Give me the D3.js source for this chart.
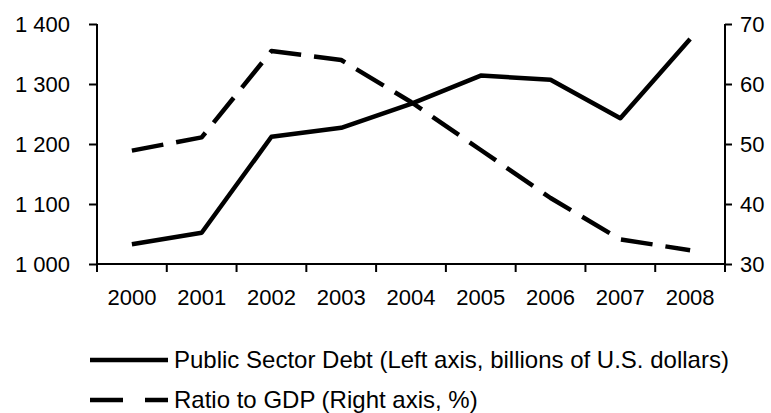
<!DOCTYPE html>
<html>
<head>
<meta charset="utf-8">
<script src="https://cdn.jsdelivr.net/npm/d3@7"></script>
<style>
  body { margin: 0; background: #fff; }
  svg text { font-family: "Liberation Sans", Arial, sans-serif; fill: #000; }
</style>
</head>
<body>
<svg id="chart" width="771" height="413"></svg>
<script>
// Values
const years = ["2000", "2001", "2002", "2003", "2004", "2005", "2006", "2007", "2008"];
const debt = [1033, 1052, 1212, 1227, 1267, 1314, 1307, 1243, 1375];
const ratio = [48.9, 51.1, 65.5, 64.0, 57.0, 49.0, 41.0, 34.1, 32.3];
const leftTicks = [1000, 1100, 1200, 1300, 1400];
const rightTicks = [30, 40, 50, 60, 70];
const seriesNames = ["Public Sector Debt (Left axis, billions of U.S. dollars)", "Ratio to GDP (Right axis, %)"];

const svg = d3.select("#chart");
const m = { left: 97, right: 725, top: 24, bottom: 264 };

const x = d3.scaleBand().domain(years).range([m.left, m.right]);
const yL = d3.scaleLinear().domain([1000, 1400]).range([m.bottom, m.top]);
const yR = d3.scaleLinear().domain([30, 70]).range([m.bottom, m.top]);

const fmt = d => d3.format(",")(d).replace(",", " ");

// left axis
const gl = svg.append("g").attr("transform", `translate(${m.left},0)`)
  .call(d3.axisLeft(yL).tickValues(leftTicks).tickFormat(fmt).tickSize(8).tickPadding(19));
// right axis
const gr = svg.append("g").attr("transform", `translate(${m.right},0)`)
  .call(d3.axisRight(yR).tickValues(rightTicks).tickSize(7).tickPadding(8));
// x axis, ticks between categories
const gx = svg.append("g").attr("transform", `translate(0,${m.bottom})`)
  .call(d3.axisBottom(x).tickSize(0).tickPadding(25));
gx.selectAll(".tick").append("line")
  .attr("x1", -x.bandwidth() / 2).attr("x2", -x.bandwidth() / 2)
  .attr("y1", 0).attr("y2", 8);
gx.append("line")
  .attr("x1", m.right).attr("x2", m.right).attr("y1", 0).attr("y2", 8);

[gl, gr, gx].forEach(g => {
  g.select(".domain").attr("stroke", "#000").attr("stroke-width", 2);
  g.selectAll("line").attr("stroke", "#000").attr("stroke-width", 2);
  g.selectAll("text").attr("font-size", 22).attr("font-family", "Liberation Sans, Arial, sans-serif");
});
gl.select(".domain").attr("d", `M0,${m.top}V${m.bottom}`);
gr.select(".domain").attr("d", `M0,${m.top}V${m.bottom}`);
gx.select(".domain").attr("d", `M${m.left},0H${m.right}`);

const cx = d => x(d) + x.bandwidth() / 2;

svg.append("path")
  .datum(debt)
  .attr("fill", "none").attr("stroke", "#000").attr("stroke-width", 4.5)
  .attr("stroke-linejoin", "round")
  .attr("d", d3.line().x((d, i) => cx(years[i])).y(d => yL(d)));

svg.append("path")
  .datum(ratio)
  .attr("fill", "none").attr("stroke", "#000").attr("stroke-width", 4.5)
  .attr("stroke-linejoin", "round")
  .attr("stroke-dasharray", "32,13")
  .attr("d", d3.line().x((d, i) => cx(years[i])).y(d => yR(d)));

// legend
const leg = svg.append("g");
[0, 1].forEach(i => {
  const yy = 360 + i * 40;
  leg.append("line")
    .attr("x1", 90).attr("x2", 168).attr("y1", yy).attr("y2", yy)
    .attr("stroke", "#000").attr("stroke-width", 4.5)
    .attr("stroke-dasharray", i ? "33,22,23" : null);
  leg.append("text").attr("x", 174).attr("y", yy).attr("dy", "0.35em")
    .attr("font-size", 24).text(seriesNames[i]);
});
</script>
</body>
</html>
